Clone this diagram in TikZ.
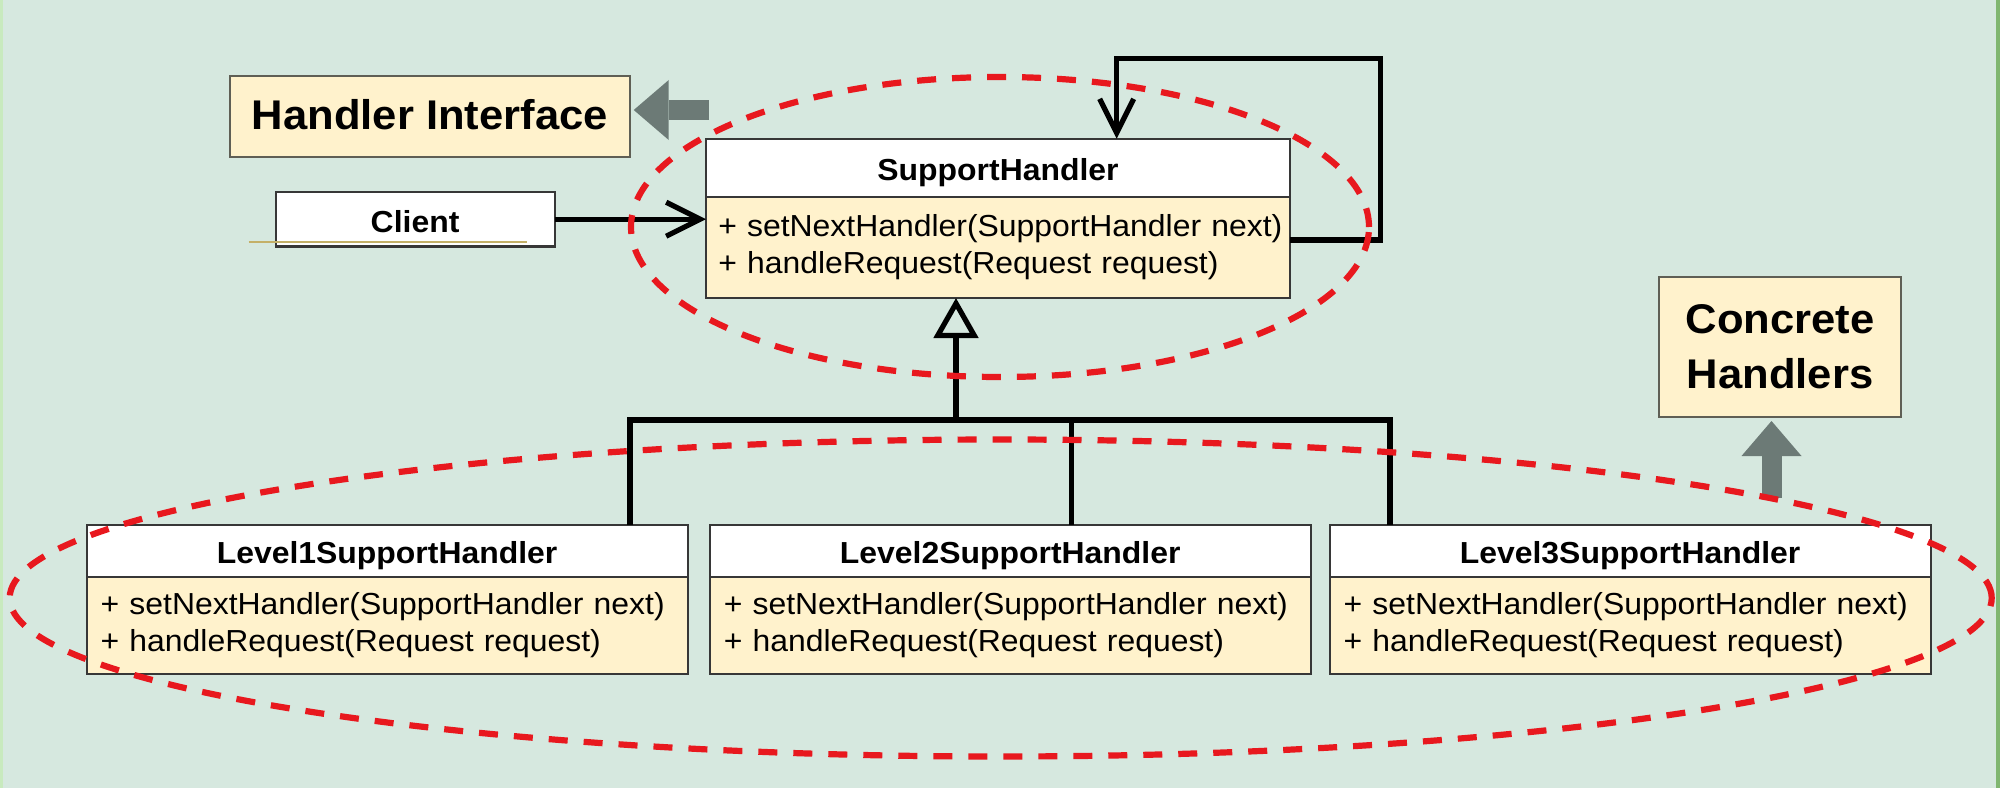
\documentclass[tikz,border=0pt]{standalone}
\usepackage{fontspec}
\setmainfont{Liberation Sans}[FakeStretch=1.05]
\usetikzlibrary{arrows.meta,shapes.geometric,calc}
\definecolor{bgc}{RGB}{214,232,223}
\definecolor{yelc}{RGB}{255,242,204}
\definecolor{linec}{RGB}{55,55,55}
\definecolor{lblline}{RGB}{95,95,85}
\definecolor{grayarr}{RGB}{108,122,118}
\definecolor{redc}{RGB}{232,24,30}
\definecolor{leftgreen}{RGB}{200,234,190}
\definecolor{rightgreen}{RGB}{128,182,112}
\definecolor{goldc}{RGB}{196,176,104}
\newcommand\umlfont{\fontsize{30.4bp}{37bp}\selectfont}
\newcommand\lblfont{\fontsize{41.5bp}{55bp}\selectfont\bfseries}
\begin{document}
\begin{tikzpicture}[x=1bp,y=-1bp,
  umlhead/.style={draw=linec, line width=2bp, fill=white, inner sep=0pt, outer sep=0pt,
    anchor=north west, font=\umlfont\bfseries, text height=26bp, text depth=0bp},
  umlbody/.style={draw=linec, line width=2bp, fill=yelc, inner ysep=0pt, outer sep=0pt,
    anchor=north west, font=\umlfont, align=left},
  lvlhead/.style={umlhead, minimum width=600.8bp, minimum height=51.7bp},
  lvlbody/.style={umlbody, text width=572.8bp, inner xsep=14bp, minimum height=97.6bp},
  lbl/.style={draw=lblline, line width=2bp, fill=yelc, inner sep=0pt, outer sep=0pt, font=\lblfont},
  conn/.style={draw=black, line width=5.2bp, line join=miter},
  barb/.style={-{Straight Barb[length=34bp,width=34bp]}},
  bigarr/.style={draw=grayarr, line width=20bp, -{Triangle[length=35bp,width=60bp,line width=0pt]}},
  ell/.style={ellipse, draw=redc, line width=6.2bp, dash pattern=on 19bp off 16bp, inner sep=0pt, fill=none},
]
\useasboundingbox (0,0) rectangle (2000,788);
\fill[bgc] (0,0) rectangle (2000,788);
\fill[leftgreen] (0,0) rectangle (3,788);
\fill[rightgreen] (1996,0) rectangle (1999.5,788);

% labels
\node[lbl, minimum width=400.4bp, minimum height=81.3bp, text height=26bp, text depth=0bp] (hi) at (429.8,116.65) {Handler Interface};
\node[lbl, minimum width=241.4bp, minimum height=140bp, align=center] (ch) at (1780,346.7) {Concrete\\Handlers};

% client
\node[umlhead, anchor=center, minimum width=279.1bp, minimum height=55bp] (client) at (415.05,219.2) {Client};
\draw[goldc, line width=1.8bp] ([xshift=-27bp,yshift=4.4bp]client.south west) -- ([xshift=-28bp,yshift=4.4bp]client.south east);
\draw[linec, line width=3.5bp] (client.south west) -- (client.south east);

% SupportHandler
\node[umlhead, minimum width=584bp, minimum height=58bp] (shh) at (706,138.7) {SupportHandler};
\node[umlbody, text width=559.4bp, inner xsep=12.3bp, minimum height=101.3bp] (shb) at (706,196.7)
  {\mbox{+ setNextHandler(SupportHandler next)}\\\mbox{+ handleRequest(Request request)}};

% Level handlers
\node[lvlhead] (l1h) at (86.7,525) {Level1SupportHandler};
\node[lvlbody] (l1b) at (86.7,576.7) {\mbox{+ setNextHandler(SupportHandler next)}\\\mbox{+ handleRequest(Request request)}};
\node[lvlhead] (l2h) at (709.8,525) {Level2SupportHandler};
\node[lvlbody] (l2b) at (709.8,576.7) {\mbox{+ setNextHandler(SupportHandler next)}\\\mbox{+ handleRequest(Request request)}};
\node[lvlhead] (l3h) at (1329.7,525) {Level3SupportHandler};
\node[lvlbody] (l3b) at (1329.7,576.7) {\mbox{+ setNextHandler(SupportHandler next)}\\\mbox{+ handleRequest(Request request)}};

% connectors
\draw[conn, barb] (client.east) -- (shb.west |- client.east);
\coordinate (loopTR) at (1380.7,58.3);
\coordinate (loopTL) at (1116.7,58.3);
\coordinate (loopStart) at (1290,240);
\draw[conn, barb] (loopStart) -| (loopTR) -| (shh.north -| loopTL);

\coordinate (bL) at (630,420);
\coordinate (bM) at (956,420);
\coordinate (b2) at (1071.7,420);
\coordinate (bR) at (1390,420);
\draw[conn] (l1h.north -| bL) -- (bL) -- (bR) -- (l3h.north -| bR);
\draw[conn] (b2) -- (l2h.north -| b2);
\draw[conn, -{Triangle[open, fill=bgc, length=40bp, width=44bp]}] (bM) -- (shb.south -| bM);

% gray pointer arrows
\coordinate (hitail) at (709,110);
\draw[bigarr] (hitail) -- ([xshift=3.7bp]hi.east |- hitail);
\coordinate (chtail) at (1771.5,498);
\draw[bigarr] (chtail) -- ($(chtail |- ch.south)+(0,4.3)$);

% red dashed groupings
\node[ell, minimum width=738bp, minimum height=300bp] (e1) at (1000,227) {};
\node[ell, minimum width=1982bp, minimum height=317bp] (e2) at (1000.7,598) {};
\end{tikzpicture}
\end{document}
